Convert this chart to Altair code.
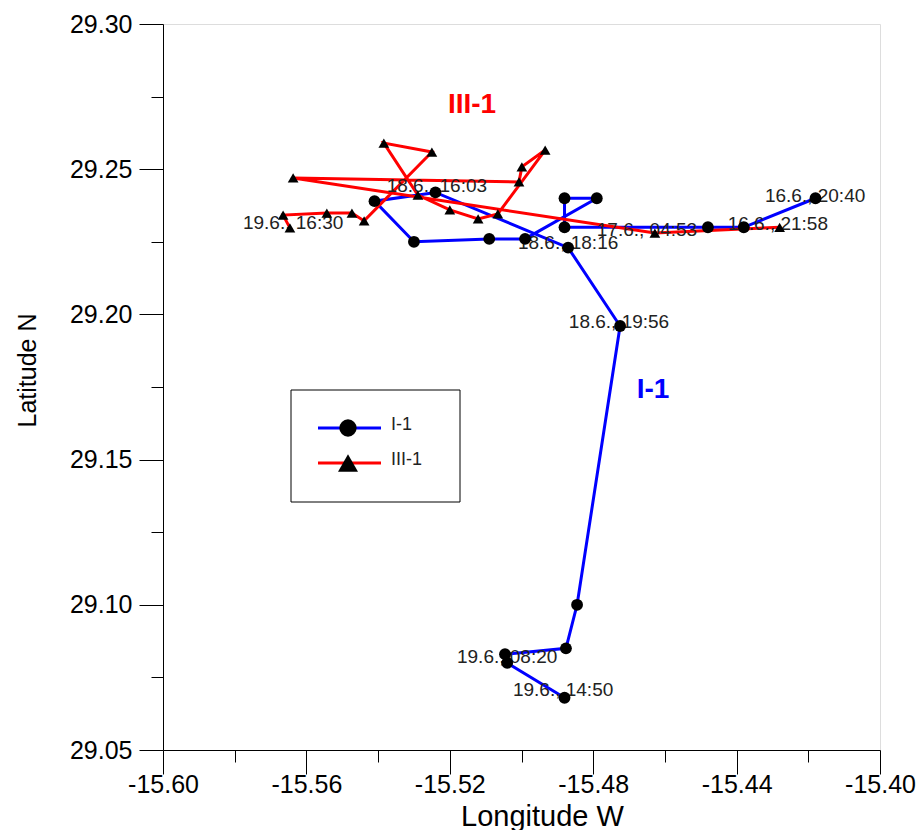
import altair as alt
import pandas as pd

# ---- data ----
series_names = ["I-1", "III-1"]
series_colors = ["#0000ff", "#ff0000"]

i1_lon = [-15.418, -15.438, -15.448, -15.488, -15.488, -15.479, -15.499, -15.509, -15.530,
          -15.541, -15.524, -15.487, -15.4725, -15.4845, -15.4876, -15.5046, -15.504, -15.488]
i1_lat = [29.240, 29.230, 29.230, 29.230, 29.240, 29.240, 29.226, 29.226, 29.225,
          29.239, 29.242, 29.223, 29.196, 29.100, 29.085, 29.083, 29.080, 29.068]

iii1_lon = [-15.428, -15.4628, -15.5637, -15.5007, -15.4999, -15.4934, -15.5066, -15.5121, -15.520,
            -15.5289, -15.5384, -15.525, -15.5439, -15.5473, -15.5543, -15.5665, -15.5646]
iii1_lat = [29.230, 29.228, 29.247, 29.2456, 29.2508, 29.2566, 29.2346, 29.2329, 29.236,
            29.2411, 29.259, 29.2559, 29.2322, 29.2349, 29.2349, 29.2342, 29.2298]

label_text = ["16.6., 20:40", "16.6., 21:58", "17.6., 04:53", "18.6., 16:03", "18.6., 18:16",
              "18.6., 19:56", "19.6., 16:30", "19.6., 08:20", "19.6., 14:50"]
label_lon = [-15.4181, -15.4285, -15.465, -15.5236, -15.487, -15.4728, -15.5637, -15.504, -15.4884]
label_lat = [29.2408, 29.2311, 29.2291, 29.2442, 29.2246, 29.1974, 29.2315, 29.082, 29.0707]

annot_text = ["III-1", "I-1"]
annot_lon = [-15.5138, -15.4633]
annot_lat = [29.272, 29.174]
annot_color = ["#ff0000", "#0000ff"]

x_ticks = [-15.60, -15.58, -15.56, -15.54, -15.52, -15.50, -15.48, -15.46, -15.44, -15.42, -15.40]
y_ticks = [29.05, 29.075, 29.10, 29.125, 29.15, 29.175, 29.20, 29.225, 29.25, 29.275, 29.30]

# ---- tables ----
df_i1 = pd.DataFrame({"lon": i1_lon, "lat": i1_lat, "order": list(range(len(i1_lon)))})
df_iii1 = pd.DataFrame({"lon": iii1_lon, "lat": iii1_lat, "order": list(range(len(iii1_lon)))})
df_lab = pd.DataFrame({"lon": label_lon, "lat": label_lat, "text": label_text})
df_ann = pd.DataFrame({"lon": annot_lon, "lat": annot_lat, "text": annot_text, "color": annot_color})

FONT = "Liberation Sans"

x_major = "abs(round(datum.value*25) - datum.value*25) < 0.001"
y_major = "abs(round(datum.value*20) - datum.value*20) < 0.001"

x_scale = alt.Scale(domain=[-15.60, -15.40], nice=False, zero=False)
y_scale = alt.Scale(domain=[29.05, 29.30], nice=False, zero=False)

x_axis = alt.Axis(
    values=x_ticks, title="Longitude W", grid=False,
    labelExpr=f"{x_major} ? ((datum.value < 0 ? '-' : '') + format(abs(datum.value), '.2f')) : ''",
    tickSize={"condition": {"test": x_major, "value": 24}, "value": 12},
    labelFlush=False, labelOverlap=False, labelPadding=-2,
    labelFont=FONT, labelFontSize=25, labelColor="black",
    titleFont=FONT, titleFontSize=29, titleFontWeight="normal", titleColor="black",
    titleX=379, titleY=66, titleBaseline="middle", titleAlign="center",
    domainColor="black", tickColor="black", domainWidth=1, tickWidth=1,
)
y_axis = alt.Axis(
    values=y_ticks, title="Latitude N", grid=False,
    labelExpr=f"{y_major} ? format(datum.value, '.2f') : ''",
    tickSize={"condition": {"test": y_major, "value": 24}, "value": 12},
    labelFlush=False, labelOverlap=False, labelPadding=7,
    labelFont=FONT, labelFontSize=25, labelColor="black",
    titleFont=FONT, titleFontSize=25, titleFontWeight="normal", titleColor="black",
    titleX=-136, titleY=346, titleBaseline="middle", titleAlign="center", titleAngle=270,
    domainColor="black", tickColor="black", domainWidth=1, tickWidth=1,
)

X = alt.X("lon:Q", scale=x_scale, axis=x_axis)
Y = alt.Y("lat:Q", scale=y_scale, axis=y_axis)

line_i1 = alt.Chart(df_i1).mark_line(color=series_colors[0], strokeWidth=3).encode(x=X, y=Y, order="order:Q")
line_iii1 = alt.Chart(df_iii1).mark_line(color=series_colors[1], strokeWidth=3).encode(x=X, y=Y, order="order:Q")

labels = alt.Chart(df_lab).mark_text(font=FONT, fontSize=19, color="#222222",
                                     align="center", baseline="middle").encode(x=X, y=Y, text="text:N")

pts_i1 = alt.Chart(df_i1).mark_point(shape="circle", filled=True, color="black", opacity=1, size=140).encode(x=X, y=Y)
pts_iii1 = alt.Chart(df_iii1).mark_point(shape="triangle-up", filled=True, color="black", opacity=1, size=115).encode(x=X, y=Y)

annots = alt.Chart(df_ann).mark_text(font=FONT, fontSize=28, fontWeight="bold",
                                     align="center", baseline="middle").encode(
    x=X, y=Y, text="text:N", color=alt.Color("color:N", scale=None))

# ---- legend box ----
one = alt.Data(values=[{}])
legend_layers = [
    alt.Chart(one).mark_rect(fill="white", stroke="black", strokeWidth=1).encode(
        x=alt.value(128), x2=alt.value(297), y=alt.value(366), y2=alt.value(478))
]
legend_shapes = ["circle", "triangle-up"]
legend_sizes = [300, 400]
legend_rows = [404, 439]
for name, col, shp, sz, ry in zip(series_names, series_colors, legend_shapes, legend_sizes, legend_rows):
    legend_layers.append(alt.Chart(one).mark_rule(color=col, strokeWidth=3).encode(
        x=alt.value(155), x2=alt.value(218), y=alt.value(ry)))
    legend_layers.append(alt.Chart(one).mark_point(shape=shp, filled=True, color="black", opacity=1, size=sz).encode(
        x=alt.value(185), y=alt.value(ry)))
    legend_layers.append(alt.Chart(one).mark_text(font=FONT, fontSize=18, color="#222222",
                                                  align="left", baseline="middle").encode(
        x=alt.value(228), y=alt.value(ry - 3), text=alt.value(name)))

chart = alt.layer(
    line_i1, line_iii1, labels, pts_i1, pts_iii1, annots, *legend_layers
).properties(
    width=717, height=726,
    autosize=alt.AutoSizeParams(type="none"),
    padding={"left": 155, "top": 16, "right": 36, "bottom": 80},
).configure_view(stroke=None).configure(background="white")

chart.save("out.html", embed_options={"renderer": "svg", "actions": False})
